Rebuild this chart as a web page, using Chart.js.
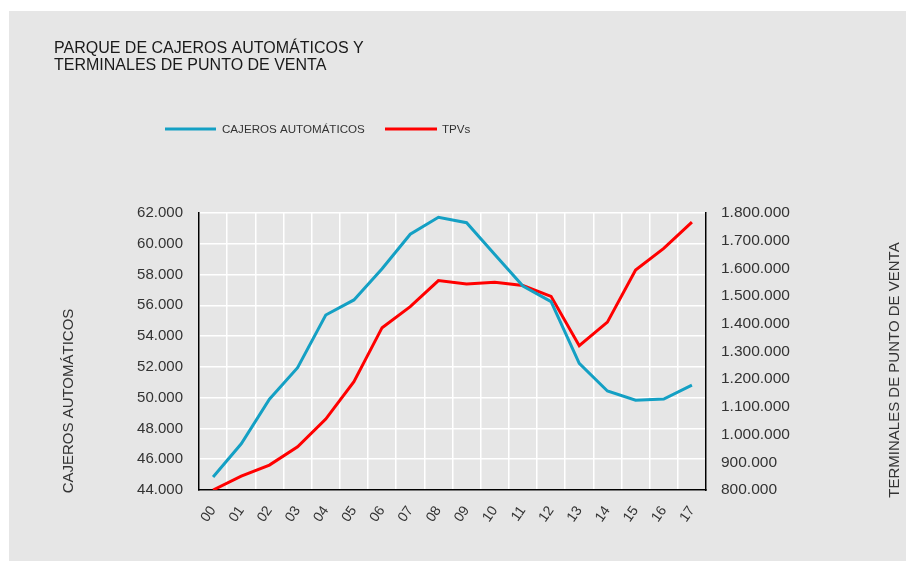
<!DOCTYPE html>
<html>
<head>
<meta charset="utf-8">
<script src="https://cdn.jsdelivr.net/npm/chart.js@4/dist/chart.umd.min.js"></script>
<style>
  html, body { margin: 0; padding: 0; background: #fff; }
  #wrap { width: 916px; height: 561px; }
</style>
</head>
<body>
<div id="wrap"><canvas id="chart"></canvas></div>
<script>
const years = ['00','01','02','03','04','05','06','07','08','09','10','11','12','13','14','15','16','17'];
const cajeros = [44850, 47000, 49900, 51950, 55370, 56350, 58380, 60620, 61720, 61370, 59300, 57260, 56240, 52230, 50430, 49830, 49910, 50820];
const tpvs = [800000, 850000, 890000, 956000, 1056000, 1191000, 1386000, 1462000, 1556000, 1544000, 1550000, 1538000, 1499000, 1321000, 1406000, 1594000, 1672000, 1767000];
const leftTicks = [44000, 62000, 2000];
const rightTicks = [800000, 1800000, 100000];

const FONT = '"Liberation Sans", Arial, sans-serif';
const fmt = v => String(v).replace(/\B(?=(\d{3})+(?!\d))/g, '.');

const decor = {
  id: 'decor',
  beforeDraw(chart) {
    const c = chart.ctx;
    c.save();
    c.fillStyle = '#ffffff';
    c.fillRect(0, 0, chart.width, chart.height);
    c.fillStyle = '#e6e6e6';
    c.fillRect(9, 11, 897, 550);
    c.restore();
  },
  afterDraw(chart) {
    const c = chart.ctx;
    c.save();
    c.fillStyle = '#1a1a1a';
    c.font = '16px ' + FONT;
    c.textBaseline = 'alphabetic';
    c.textAlign = 'left';
    c.fillText('PARQUE DE CAJEROS AUTOMÁTICOS Y', 54, 52.5);
    c.fillText('TERMINALES DE PUNTO DE VENTA', 54, 70);

    // legend
    const items = [[165, 216, 222], [385, 437, 442]];
    c.font = '11.6px ' + FONT;
    chart.data.datasets.forEach((ds, i) => {
      const [x0, x1, tx] = items[i];
      c.strokeStyle = ds.borderColor;
      c.lineWidth = 3;
      c.beginPath(); c.moveTo(x0, 129); c.lineTo(x1, 129); c.stroke();
      c.fillStyle = '#333';
      c.fillText(ds.label, tx, 133);
    });

    // axis titles (both read bottom-to-top)
    c.font = '15px ' + FONT;
    c.fillStyle = '#333';
    c.textAlign = 'center';
    c.save(); c.translate(73, 401); c.rotate(-Math.PI / 2); c.fillText('CAJEROS AUTOMÁTICOS', 0, 0); c.restore();
    c.save(); c.translate(899, 370); c.rotate(-Math.PI / 2); c.fillText('TERMINALES DE PUNTO DE VENTA', 0, 0); c.restore();
    c.restore();
  }
};

new Chart(document.getElementById('chart'), {
  type: 'line',
  data: {
    labels: years,
    datasets: [
      { label: 'CAJEROS AUTOMÁTICOS', data: cajeros, yAxisID: 'y', borderColor: '#14a0c4', borderWidth: 3, pointRadius: 0, tension: 0 },
      { label: 'TPVs', data: tpvs, yAxisID: 'y1', borderColor: '#ff0000', borderWidth: 3, pointRadius: 0, tension: 0 }
    ]
  },
  options: {
    responsive: true,
    maintainAspectRatio: false,
    animation: false,
    layout: { padding: { top: 213, left: 0, right: 0, bottom: 0 } },
    plugins: { legend: { display: false }, tooltip: { enabled: false } },
    scales: {
      x: {
        offset: true,
        grid: { offset: true, color: '#ffffff', lineWidth: 1.5, drawTicks: false },
        border: { color: '#000', width: 1.5 },
        ticks: { color: '#333', font: { family: FONT, size: 14 }, minRotation: 55, maxRotation: 55, padding: 13 },
        afterFit(s) { s.height = 71; }
      },
      y: {
        position: 'left',
        min: leftTicks[0], max: leftTicks[1],
        grid: { color: '#ffffff', lineWidth: 1.5, drawTicks: false },
        border: { color: '#000', width: 1.5 },
        ticks: { stepSize: leftTicks[2], color: '#333', font: { family: FONT, size: 15 }, padding: 16, callback: v => fmt(v) },
        afterFit(s) { s.width = 199; }
      },
      y1: {
        position: 'right',
        min: rightTicks[0], max: rightTicks[1],
        grid: { display: false, drawTicks: false },
        border: { color: '#000', width: 1.5 },
        ticks: { stepSize: rightTicks[2], color: '#333', font: { family: FONT, size: 15.5 }, padding: 15, callback: v => fmt(v) },
        afterFit(s) { s.width = 210; }
      }
    }
  },
  plugins: [decor]
});
</script>
</body>
</html>
